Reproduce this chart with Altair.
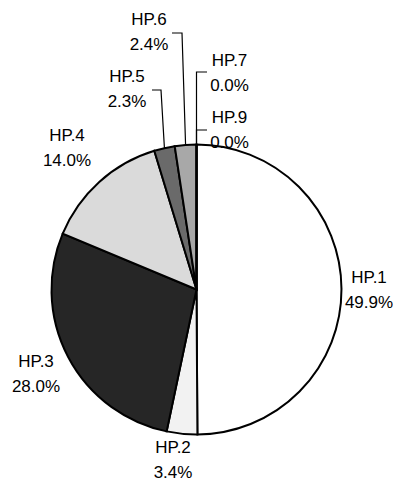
import math
import altair as alt
import pandas as pd

# ---- data ----
categories = ["HP.1", "HP.2", "HP.3", "HP.4", "HP.5", "HP.6", "HP.7", "HP.9"]
shares = [49.9, 3.4, 28.0, 14.0, 2.3, 2.4, 0.0, 0.0]

# ---- styles / layout ----
fills = ["#ffffff", "#f2f2f2", "#262626", "#dadada", "#6a6a6a", "#a8a8a8", "#8c8c8c", "#8c8c8c"]
PAGE = 8
LINE_H = 25
CX, CY, R = 196.5 - PAGE, 289.5 - PAGE, 145
# label block centres (pixels in the page)
label_x = [369, 173, 36, 67, 127, 149, 229.5, 229.5]
label_y = [290, 460, 374.5, 148, 89.5, 32.5, 73, 130]
# leader lines: (category, label-side start, elbow) ; end point on the pie is computed
leaders = [
    ("HP.5", (152, 90), (161, 90)),
    ("HP.6", (172, 33), (182, 33)),
    ("HP.7", (207, 72), (196.5, 72)),
    ("HP.9", (207, 130), (196.5, 130)),
]

df = pd.DataFrame({
    "cat": categories,
    "share": shares,
    "idx": list(range(len(categories))),
    "label": [f"{c}\n{v:.1f}%" for c, v in zip(categories, shares)],
    "lx": [x - PAGE for x in label_x],
    "ly": [y - PAGE - LINE_H / 2 for y in label_y],
})

# mid-angle of each slice, for leader end points
total = sum(shares)
mid = {}
cum = 0.0
for c, v in zip(categories, shares):
    mid[c] = 2 * math.pi * (cum + v / 2) / total
    cum += v

rows = []
for c, start, elbow in leaders:
    a = mid[c]
    end = (CX + R * math.sin(a), CY - R * math.cos(a))
    pts = [(start[0] - PAGE, start[1] - PAGE), (elbow[0] - PAGE, elbow[1] - PAGE), end]
    for k, (px, py) in enumerate(pts):
        rows.append({"cat": c, "k": k, "px": px, "py": py})
lead_df = pd.DataFrame(rows)

arcs = alt.Chart(df).mark_arc(outerRadius=R, stroke="black", strokeWidth=2).encode(
    theta=alt.Theta("share:Q", stack=True),
    order=alt.Order("idx:Q"),
    color=alt.Color("cat:N", scale=alt.Scale(domain=categories, range=fills), legend=None),
    x=alt.value(CX),
    y=alt.value(CY),
)

lines = alt.Chart(lead_df).mark_line(color="black", strokeWidth=1.2).encode(
    x=alt.X("px:Q", scale=None, axis=None),
    y=alt.Y("py:Q", scale=None, axis=None),
    detail="cat:N",
    order="k:Q",
)

text = alt.Chart(df).mark_text(
    font="Liberation Sans", fontSize=17, color="#000000",
    lineBreak="\n", lineHeight=LINE_H, align="center", baseline="middle",
).encode(
    x=alt.X("lx:Q", scale=None, axis=None),
    y=alt.Y("ly:Q", scale=None, axis=None),
    text="label:N",
)

chart = alt.layer(arcs, lines, text).properties(
    width=385, height=475, padding=0, autosize="none"
).configure_view(stroke=None)

chart.save("out.html", embed_options={"renderer": "svg", "actions": False})
